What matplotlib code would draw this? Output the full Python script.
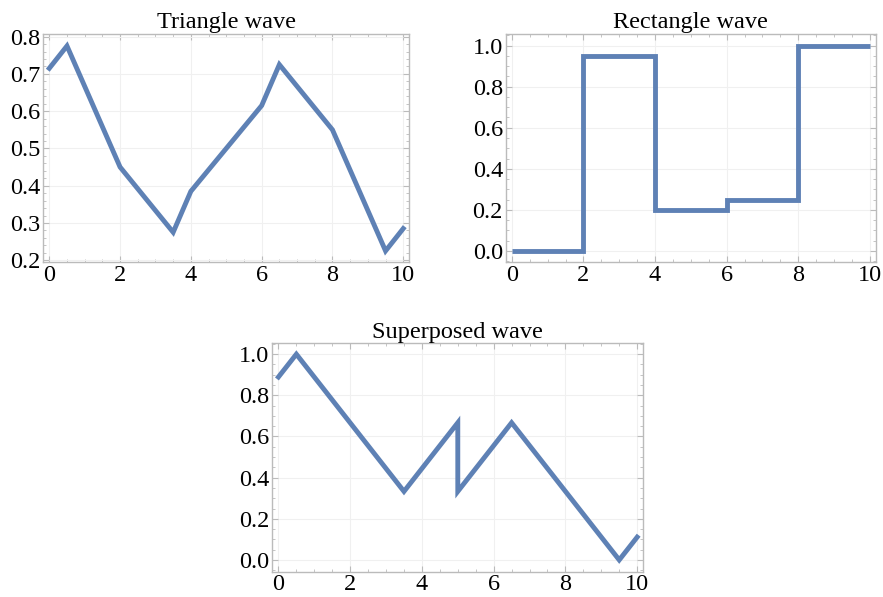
import matplotlib
matplotlib.use("Agg")
import matplotlib.pyplot as plt
from matplotlib.ticker import MultipleLocator, FormatStrFormatter

plt.rcParams['font.family'] = ['Liberation Serif', 'DejaVu Serif']

# triangle wave, read at the corner points
tri_x = [0, 0.5, 2, 3.5, 4, 6, 6.5, 8, 9.5, 10]
tri_y = [0.715, 0.775, 0.45, 0.275, 0.385, 0.615, 0.725, 0.55, 0.225, 0.285]

# rectangle wave, one level per interval
rect_edges = [0, 2, 4, 6, 8, 10]
rect_levels = [0.0, 0.95, 0.2, 0.25, 1.0]

# superposed wave (jump at x=5)
sup_x = [0, 0.5, 3.5, 5, 5, 6.5, 9.5, 10]
sup_y = [0.889, 1.0, 0.333, 0.667, 0.333, 0.667, 0.0, 0.111]

line_color = '#5E81B5'
frame_color = '#bbbbbb'


def style_axes(ax, title, ylim, ymajor, yminor):
    ax.set_title(title, fontsize=17.5, pad=4)
    ax.set_xlim(-0.17, 10.17)
    ax.set_ylim(*ylim)
    ax.xaxis.set_major_locator(MultipleLocator(2))
    ax.xaxis.set_minor_locator(MultipleLocator(0.5))
    ax.yaxis.set_major_locator(MultipleLocator(ymajor))
    ax.yaxis.set_minor_locator(MultipleLocator(yminor))
    ax.yaxis.set_major_formatter(FormatStrFormatter('%.1f'))
    ax.tick_params(which='both', direction='in', top=True, right=True,
                   color=frame_color, labelsize=17.5, pad=2)
    ax.tick_params(which='major', length=4, width=0.8)
    ax.tick_params(which='minor', length=2, width=0.6)
    for s in ax.spines.values():
        s.set_color(frame_color)
        s.set_linewidth(1.0)
    ax.grid(True, which='major', color='#f0f0f0', linewidth=0.8)
    ax.set_axisbelow(True)


fig = plt.figure(figsize=(8.83, 5.97), dpi=100)
ax1 = fig.add_axes([0.049, 0.561, 0.4145, 0.382])
ax2 = fig.add_axes([0.5727, 0.561, 0.4194, 0.382])
ax3 = fig.add_axes([0.3084, 0.0424, 0.4201, 0.3826])

ax1.plot(tri_x, tri_y, color=line_color, lw=3.5, solid_joinstyle='miter')
style_axes(ax1, 'Triangle wave', (0.195, 0.807), 0.1, 0.02)

ax2.stairs(rect_levels, rect_edges, color=line_color, lw=3.5, baseline=None)
style_axes(ax2, 'Rectangle wave', (-0.055, 1.057), 0.2, 0.05)

ax3.plot(sup_x, sup_y, color=line_color, lw=3.5, solid_joinstyle='miter')
style_axes(ax3, 'Superposed wave', (-0.057, 1.053), 0.2, 0.05)

fig.savefig('out.png', dpi=100)
